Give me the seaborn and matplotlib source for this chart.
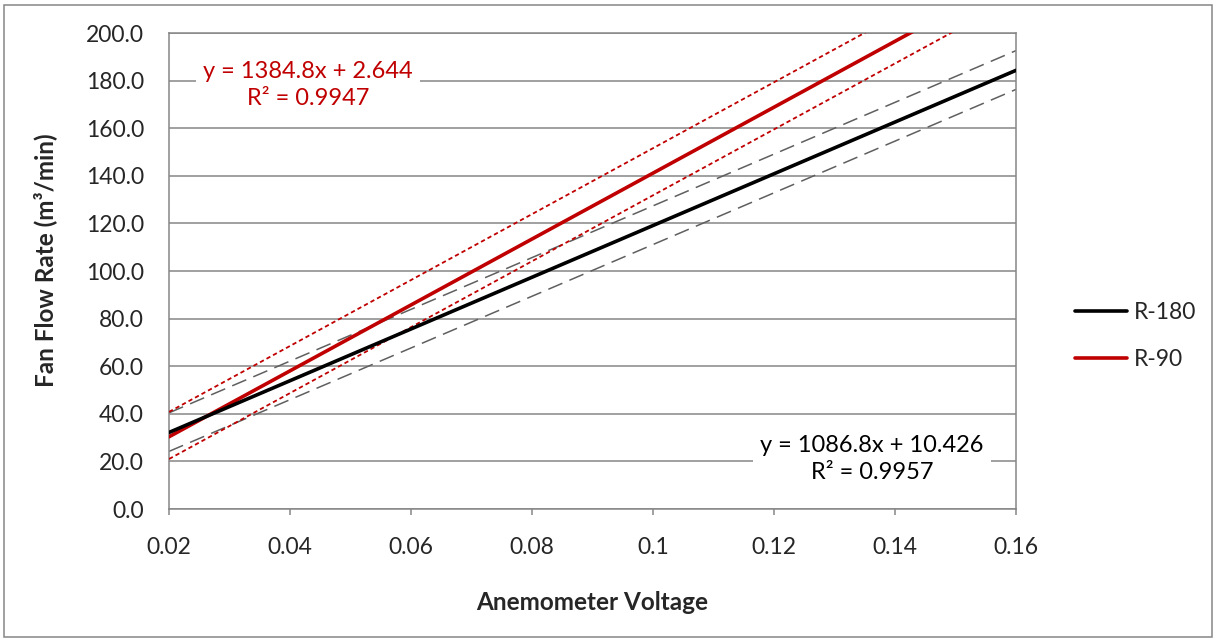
import matplotlib
matplotlib.use("Agg")
import matplotlib.pyplot as plt
import numpy as np
import pandas as pd
import seaborn as sns
from matplotlib.patches import Rectangle

# --- data -------------------------------------------------------------
x_range = [0.02, 0.16]

# linear fits (slope, intercept) shown as trendline equations
r180_fit = (1086.8, 10.426)
r90_fit = (1384.8, 2.644)
r180_r2 = 0.9957
r90_r2 = 0.9947

# confidence-band end values at x = 0.02 and x = 0.16
r180_upper = [40.4, 192.6]
r180_lower = [24.2, 176.3]
r90_upper = [40.8, 234.7]
r90_lower = [21.0, 214.9]

series_names = ["R-180", "R-90"]
x_ticks = [0.02, 0.04, 0.06, 0.08, 0.10, 0.12, 0.14, 0.16]
x_tick_labels = ["0.02", "0.04", "0.06", "0.08", "0.1", "0.12", "0.14", "0.16"]
y_ticks = [0, 20, 40, 60, 80, 100, 120, 140, 160, 180, 200]

# --- styling ----------------------------------------------------------
sns.set_theme(style="white")
plt.rcParams["font.family"] = ["Lato", "DejaVu Sans"]

BLACK = "#000000"
RED = "#C00000"
GREY = "#868686"
DASH_GREY = "#5f5f5f"
TICK_FS = 16.5
LABEL_FS = 17.5
EQ_FS = 17

fig = plt.figure(figsize=(12.15, 6.40), dpi=100)
fig.patch.set_facecolor("white")
# chart-area border
fig.add_artist(Rectangle((4 / 1215, 3 / 640), 1208 / 1215, 632 / 640,
                         transform=fig.transFigure, fill=False,
                         edgecolor=GREY, linewidth=1.1))

ax = fig.add_axes([169 / 1215, 1 - 509 / 640, 847 / 1215, 476 / 640])

xs = np.array(x_range)
fits = pd.DataFrame({
    "x": np.concatenate([xs, xs]),
    "y": np.concatenate([r180_fit[0] * xs + r180_fit[1],
                         r90_fit[0] * xs + r90_fit[1]]),
    "series": [series_names[0]] * 2 + [series_names[1]] * 2,
})

# bands
for vals in (r180_upper, r180_lower):
    sns.lineplot(x=xs, y=vals, ax=ax, color=DASH_GREY, linewidth=1.1,
                 zorder=2).lines[-1].set_dashes([10, 5])
for vals in (r90_upper, r90_lower):
    sns.lineplot(x=xs, y=vals, ax=ax, color=RED, linewidth=1.3,
                 zorder=3).lines[-1].set_dashes([2.4, 1.7])

# fitted lines
sns.lineplot(data=fits[fits.series == "R-90"], x="x", y="y", ax=ax,
             color=RED, linewidth=2.6, zorder=4, legend=False)
sns.lineplot(data=fits[fits.series == "R-180"], x="x", y="y", ax=ax,
             color=BLACK, linewidth=2.6, zorder=5, legend=False)

ax.set_xlim(x_range)
ax.set_ylim(0, 200)
ax.set_xticks(x_ticks)
ax.set_xticklabels(x_tick_labels)
ax.set_yticks(y_ticks)
ax.set_yticklabels([f"{v:.1f}" for v in y_ticks])
ax.grid(axis="y", color=GREY, linewidth=1.1, zorder=0)
ax.set_axisbelow(True)
for s in ax.spines.values():
    s.set_color(GREY)
    s.set_linewidth(1.1)
ax.tick_params(axis="x", direction="out", length=4, width=1.1, color=GREY,
               labelsize=TICK_FS, pad=16, bottom=True)
ax.tick_params(axis="y", length=0, labelsize=TICK_FS, pad=18)
ax.set_xlabel("")
ax.set_ylabel("")

fig.text(592 / 1215, 1 - 602 / 640, "Anemometer Voltage", ha="center",
         va="center", fontsize=LABEL_FS, fontweight="bold")
fig.text(45 / 1215, 1 - 260 / 640, "Fan Flow Rate (m³/min)", ha="center",
         va="center", rotation=90, fontsize=LABEL_FS, fontweight="bold")

# trendline equations
def eq_label(fit, r2, xc, yc, color):
    txt = f"y = {fit[0]:.1f}x + {fit[1]:g}\nR² = {r2:.4f}"
    ax.text(xc, yc, txt, transform=fig.transFigure, ha="center", va="center",
            fontsize=EQ_FS, color=color, linespacing=1.4, zorder=6,
            bbox=dict(boxstyle="square,pad=0.3", facecolor="white",
                      edgecolor="none"))

eq_label(r90_fit, r90_r2, 308 / 1215, 1 - 85 / 640, RED)
eq_label(r180_fit, r180_r2, 872 / 1215, 1 - 459 / 640, BLACK)

# legend
handles = [plt.Line2D([], [], color=BLACK, linewidth=2.6),
           plt.Line2D([], [], color=RED, linewidth=2.6)]
fig.legend(handles, series_names, loc="center left",
           bbox_to_anchor=(1075 / 1215, 1 - 336 / 640), frameon=False,
           fontsize=TICK_FS, handlelength=2.25, handletextpad=0.3,
           labelspacing=1.15, borderaxespad=0, borderpad=0)

fig.savefig("out.png", dpi=100, facecolor="white")
